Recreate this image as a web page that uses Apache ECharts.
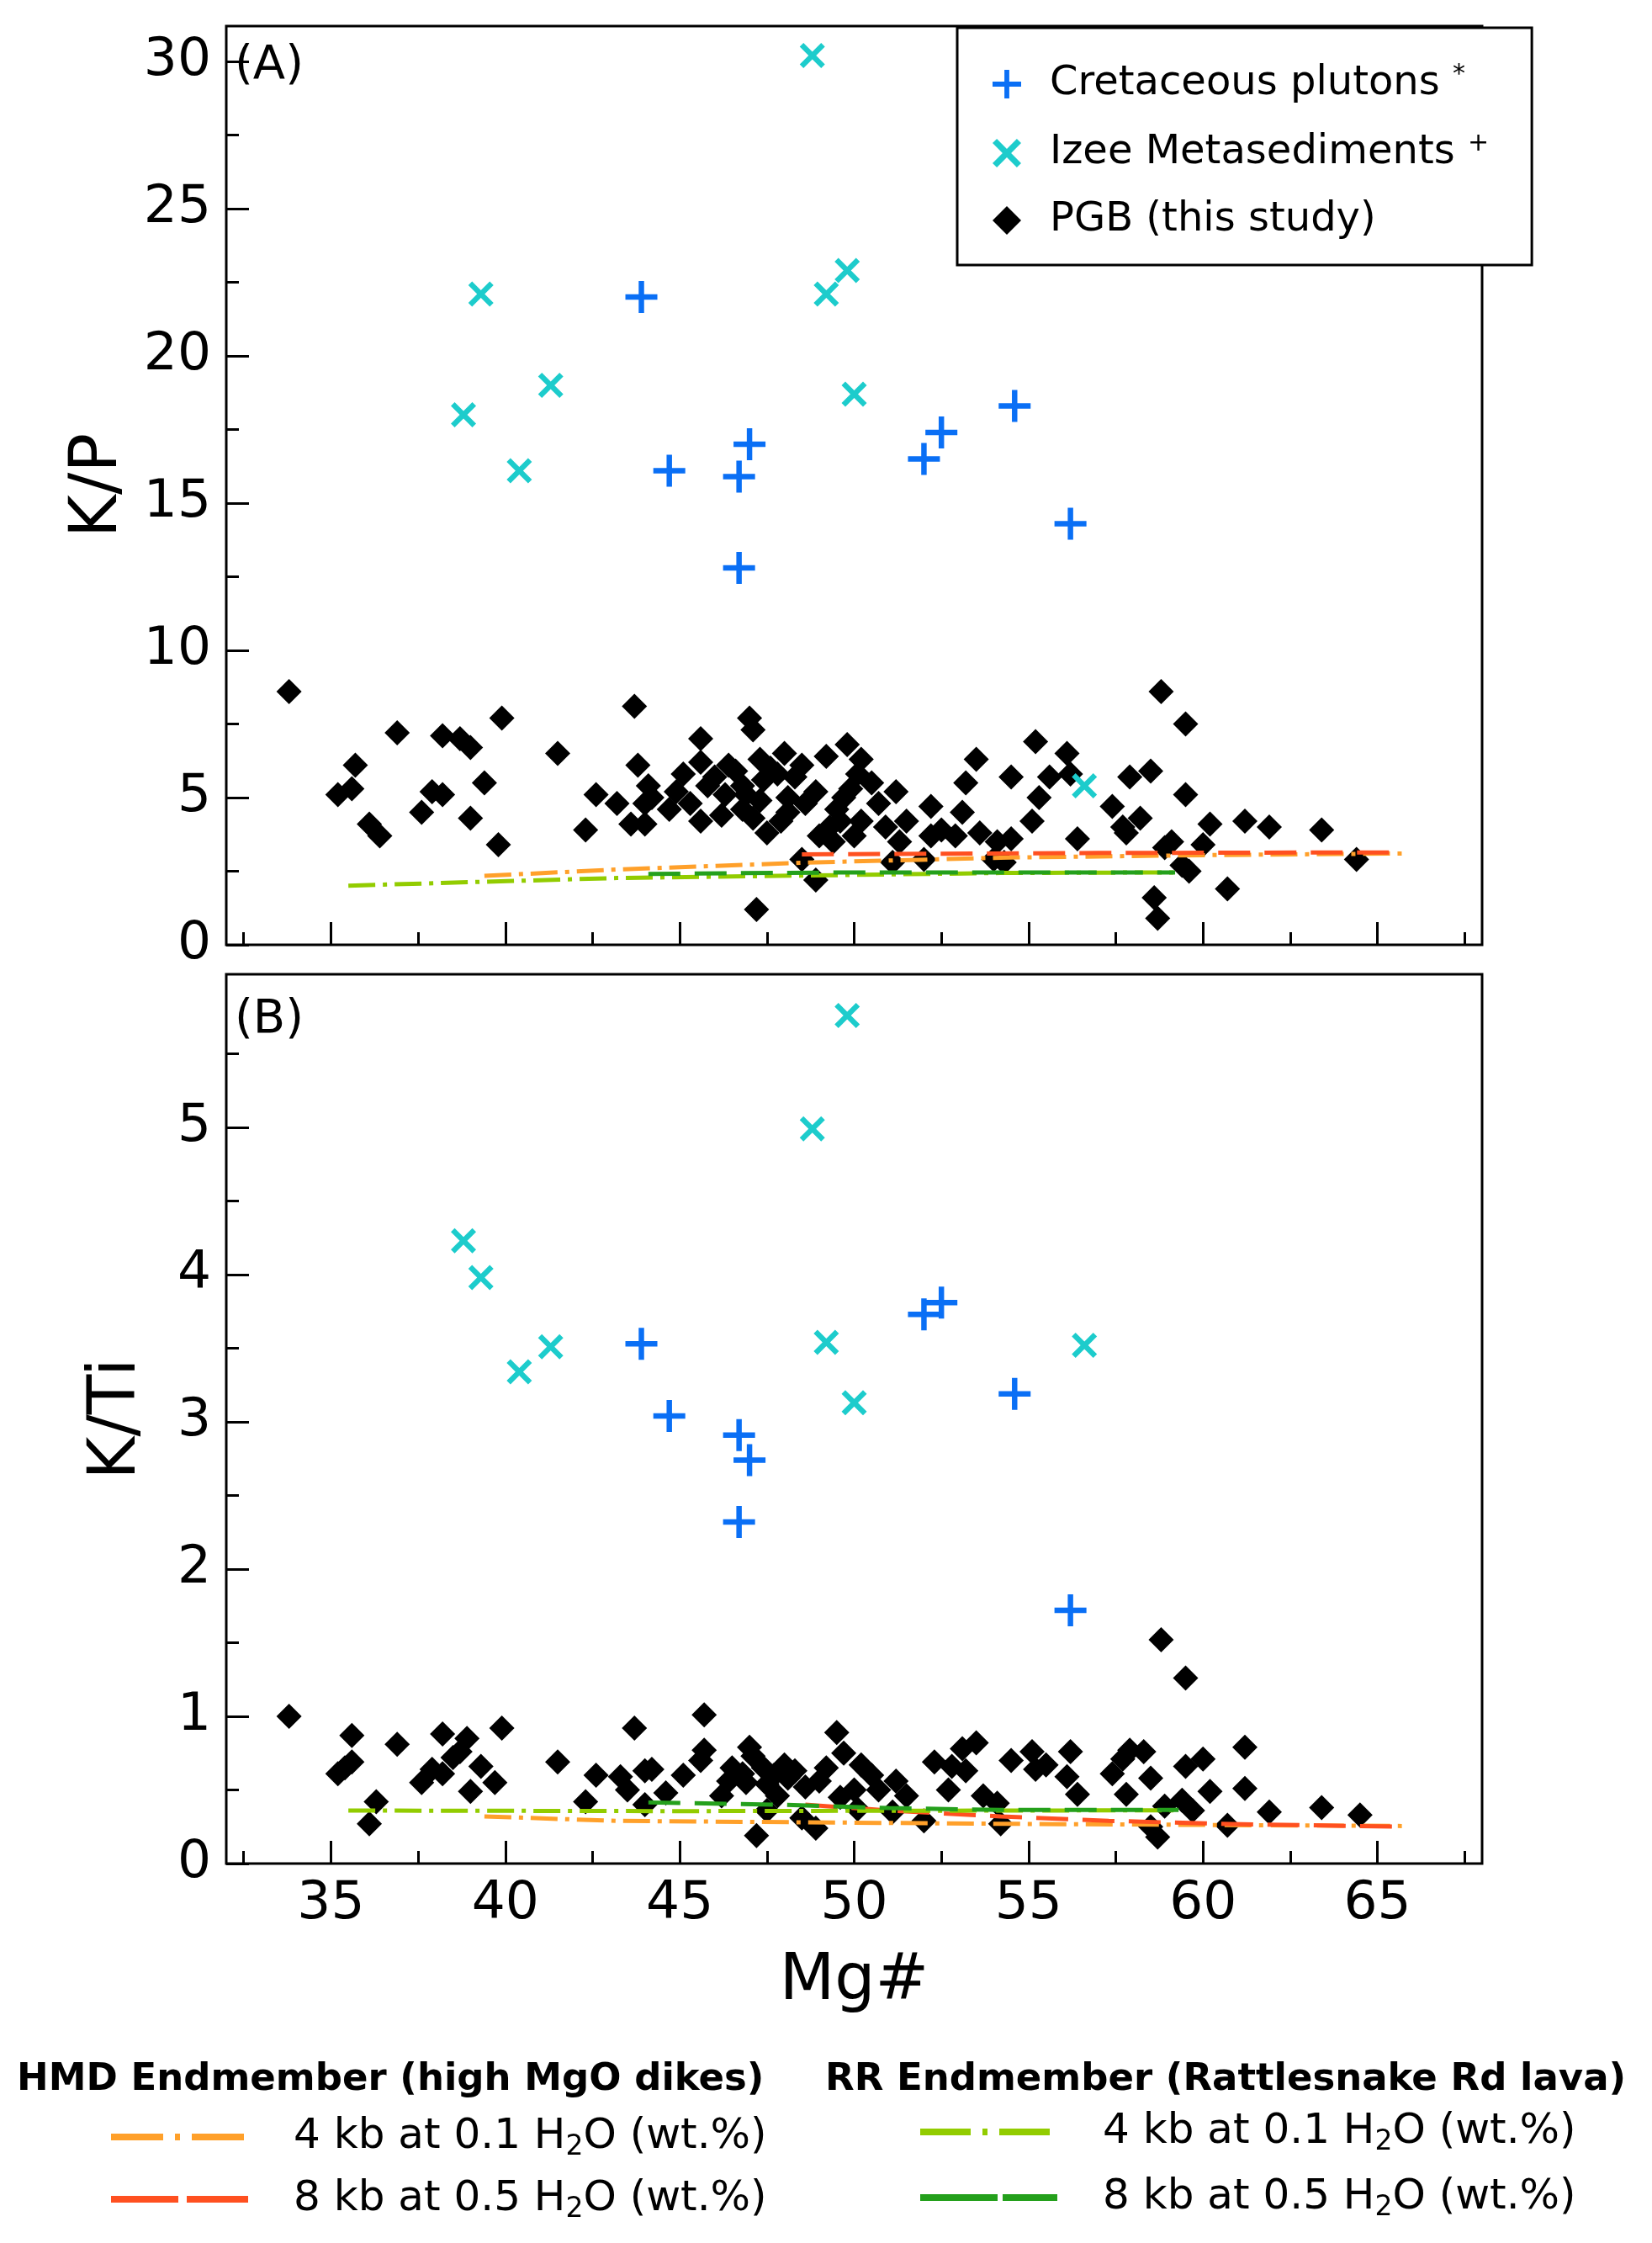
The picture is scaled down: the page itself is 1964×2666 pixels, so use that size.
<!DOCTYPE html>
<html>
<head>
<meta charset="utf-8">
<script src="https://cdn.jsdelivr.net/npm/echarts@6/dist/echarts.min.js"></script>
<style>
  html, body { margin: 0; padding: 0; background: #fff; }
  #chart { width: 1964px; height: 2666px; }
</style>
</head>
<body>
<div id="chart"></div>
<script>
// Cretaceous plutons (Mg#, K/P, K/Ti)
const plutonMg = [43.9, 44.7, 46.7, 47.0, 46.7, 52.0, 52.5, 54.6, 56.2]
const plutonKP = [22.0, 16.1, 15.9, 17.0, 12.8, 16.5, 17.4, 18.3, 14.3]
const plutonKTi = [3.53, 3.04, 2.91, 2.74, 2.32, 3.73, 3.81, 3.19, 1.72]

// Izee metasediments
const izeeMg = [38.8, 39.3, 40.4, 41.3, 48.8, 49.8, 49.2, 50.0, 56.6]
const izeeKP = [18.0, 22.1, 16.1, 19.0, 30.2, 22.9, 22.1, 18.7, 5.4]
const izeeKTi = [4.23, 3.98, 3.34, 3.51, 4.99, 5.76, 3.54, 3.13, 3.52]

// PGB (this study) - [Mg#, K/P]
const pgbKP = [
  [33.8, 8.6], [36.9, 7.2], [35.7, 6.1], [35.2, 5.1], [35.6, 5.3], [36.1, 4.1], [36.4, 3.7],
  [38.2, 7.1], [38.7, 7.0], [39.0, 6.7], [39.9, 7.7], [37.9, 5.2], [38.2, 5.1], [37.6, 4.5],
  [39.4, 5.5], [39.0, 4.3], [39.8, 3.4], [41.5, 6.5], [42.6, 5.1], [42.3, 3.9],
  [43.7, 8.1], [43.8, 6.1], [43.2, 4.8], [44.1, 5.4], [44.2, 5.0], [44.0, 4.8], [43.6, 4.1],
  [44.0, 4.1], [44.7, 4.6], [45.1, 5.8], [44.9, 5.2], [45.6, 7.0], [45.6, 6.2], [45.8, 5.4],
  [45.6, 4.2], [46.2, 4.4], [46.4, 6.1], [46.3, 5.1], [47.0, 7.7], [47.1, 7.3], [46.8, 5.4],
  [46.8, 4.6], [47.3, 6.3], [47.4, 5.6], [47.3, 4.9], [47.1, 4.3], [47.5, 3.8], [48.0, 6.5],
  [47.8, 5.8], [48.1, 5.0], [48.3, 5.7], [48.1, 4.5], [48.9, 5.2], [49.2, 6.4], [49.8, 6.8],
  [50.2, 6.3], [50.1, 5.8], [49.7, 5.0], [49.5, 4.6], [49.6, 4.2], [50.0, 3.7], [49.0, 3.7],
  [49.4, 3.5], [50.2, 4.2], [50.7, 4.8], [51.2, 5.2], [51.5, 4.2], [51.3, 3.5], [52.2, 4.7],
  [53.1, 4.5], [53.5, 6.3], [53.2, 5.5], [52.5, 3.9], [52.9, 3.7], [53.6, 3.8], [54.1, 3.5],
  [52.2, 3.7], [48.5, 2.9], [48.9, 2.2], [47.2, 1.2], [51.1, 2.8], [52.0, 2.9], [54.0, 2.9],
  [46.6, 5.9], [47.6, 6.0], [46.0, 5.7], [48.5, 6.1], [47.9, 4.2], [48.6, 4.8], [45.3, 4.8],
  [46.9, 5.1], [49.9, 5.3], [50.5, 5.5], [50.9, 4.0], [49.3, 4.0],
  [58.8, 8.6], [59.5, 7.5], [55.2, 6.9], [56.1, 6.5], [54.5, 5.7], [55.6, 5.7], [56.2, 5.8],
  [55.3, 5.0], [55.1, 4.2], [54.5, 3.6], [56.4, 3.6], [57.4, 4.7], [57.9, 5.7], [58.5, 5.9],
  [59.5, 5.1], [58.2, 4.3], [57.7, 4.0], [57.8, 3.8], [59.1, 3.5], [58.9, 3.3], [60.0, 3.4],
  [60.2, 4.1], [61.2, 4.2], [61.9, 4.0], [63.4, 3.9], [64.4, 2.9], [59.4, 2.7], [59.6, 2.5],
  [60.7, 1.9], [58.6, 1.6], [58.7, 0.9], [54.3, 2.8]
]

// PGB (this study) - [Mg#, K/Ti]
const pgbKTi = [
  [33.8, 1.0], [35.6, 0.87], [36.9, 0.81], [35.2, 0.61], [35.4, 0.65], [35.6, 0.69], [36.3, 0.42],
  [36.1, 0.27], [38.2, 0.88], [38.9, 0.85], [38.7, 0.76], [38.5, 0.72], [39.9, 0.92], [37.9, 0.64],
  [37.6, 0.55], [38.2, 0.61], [39.3, 0.66], [39.7, 0.55], [39.0, 0.49], [41.5, 0.69], [42.6, 0.6],
  [42.3, 0.42],
  [43.7, 0.92], [45.7, 1.01], [43.3, 0.59], [44.0, 0.63], [44.2, 0.64], [43.5, 0.5], [44.0, 0.4],
  [44.6, 0.48], [45.1, 0.6], [45.7, 0.77], [45.6, 0.7], [46.2, 0.46], [46.5, 0.65], [47.0, 0.79],
  [47.1, 0.73], [46.8, 0.61], [47.4, 0.65], [48.0, 0.67], [47.5, 0.54], [47.8, 0.46], [48.3, 0.63],
  [48.6, 0.52], [47.5, 0.36], [47.2, 0.19], [48.5, 0.31], [48.9, 0.24], [49.5, 0.89], [49.2, 0.65],
  [49.7, 0.75], [50.2, 0.67], [50.0, 0.5], [50.1, 0.37], [50.7, 0.5], [51.2, 0.56], [51.1, 0.35],
  [52.0, 0.29], [51.5, 0.46], [52.3, 0.69], [52.8, 0.66], [53.2, 0.63], [53.5, 0.82], [53.1, 0.78],
  [52.7, 0.5], [53.7, 0.46], [54.1, 0.41], [54.2, 0.27], [46.9, 0.55], [47.7, 0.6], [48.1, 0.58],
  [46.4, 0.56], [49.0, 0.56], [49.6, 0.45], [50.5, 0.6],
  [58.8, 1.52], [59.5, 1.26], [54.5, 0.7], [55.1, 0.76], [55.2, 0.64], [55.5, 0.67], [56.1, 0.59],
  [56.2, 0.76], [56.4, 0.47], [57.4, 0.61], [57.7, 0.71], [57.9, 0.77], [58.3, 0.76], [58.5, 0.58],
  [57.8, 0.47], [58.9, 0.39], [59.4, 0.43], [59.7, 0.36], [58.5, 0.25], [58.7, 0.18], [59.5, 0.66],
  [60.0, 0.71], [60.2, 0.49], [61.2, 0.79], [61.2, 0.51], [60.7, 0.26], [61.9, 0.35], [63.4, 0.38],
  [64.5, 0.33]
]

// model curves [Mg#, ratio]
const hmd4KP = [[39.4, 2.34], [43.2, 2.56], [48.6, 2.79], [54.2, 2.96], [60.3, 3.05], [65.7, 3.1]]
const hmd8KP = [[48.5, 3.07], [57.0, 3.12], [65.7, 3.14]]
const rr4KP = [[35.5, 2.01], [43.2, 2.27], [54.2, 2.44], [59.2, 2.46]]
const rr8KP = [[44.1, 2.41], [50.0, 2.46], [59.2, 2.46]]
const hmd4KTi = [[39.4, 0.32], [43.2, 0.29], [48.6, 0.28], [54.3, 0.27], [65.7, 0.255]]
const hmd8KTi = [[48.6, 0.40], [51.0, 0.36], [54.2, 0.32], [57.3, 0.29], [60.5, 0.27], [65.7, 0.25]]
const rr4KTi = [[35.5, 0.36], [45.0, 0.356], [59.3, 0.362]]
const rr8KTi = [[44.1, 0.415], [47.8, 0.40], [51.0, 0.377], [54.2, 0.364], [59.3, 0.364]]

// ticks
const mgMajor = [35, 40, 45, 50, 55, 60, 65]
const mgMinor = [32.5, 37.5, 42.5, 47.5, 52.5, 57.5, 62.5, 67.5]
const kpMajor = [0, 5, 10, 15, 20, 25, 30]
const kpMinor = [2.5, 7.5, 12.5, 17.5, 22.5, 27.5]
const ktiMajor = [0, 1, 2, 3, 4, 5]
const ktiMinor = [0.5, 1.5, 2.5, 3.5, 4.5, 5.5]

const FONT = 'DejaVu Sans'
const plusPath = 'path://M-0.17,-1L0.17,-1L0.17,-0.17L1,-0.17L1,0.17L0.17,0.17L0.17,1L-0.17,1L-0.17,0.17L-1,0.17L-1,-0.17L-0.17,-0.17Z'
const xPath = 'path://M-0.7,-1L0,-0.3L0.7,-1L1,-0.7L0.3,0L1,0.7L0.7,1L0,0.3L-0.7,1L-1,0.7L-0.3,0L-1,-0.7Z'

const COL = {
  pluton: '#0a6ff5',
  izee: '#1dcccc',
  hmd4: '#ffa02a',
  hmd8: '#ff5020',
  rr4: '#92cc00',
  rr8: '#24a01c'
}
const DASHDOT = [32, 9, 5, 9]
const DASHED = [38, 17]

const zip = (xs, ys) => xs.map((x, i) => [x, ys[i]])

function xAxes(grid, labels) {
  const base = { type: 'value', gridIndex: grid, position: 'bottom', min: 32, max: 68, axisLine: { show: false }, splitLine: { show: false } }
  return [
    Object.assign({}, base, {
      axisTick: { inside: true, length: 27, customValues: mgMajor, lineStyle: { color: '#000', width: 3 } },
      axisLabel: labels
        ? { show: true, customValues: mgMajor, fontSize: 63, fontFamily: FONT, color: '#000', margin: 17 }
        : { show: false },
      name: labels ? 'Mg#' : '',
      nameLocation: 'middle',
      nameGap: 103,
      nameTextStyle: { fontSize: 76, fontFamily: FONT, color: '#000' }
    }),
    Object.assign({}, base, {
      axisTick: { inside: true, length: 15, customValues: mgMinor, lineStyle: { color: '#000', width: 3 } },
      axisLabel: { show: false }
    })
  ]
}

function yAxes(grid, max, major, minor, name, gap) {
  const base = { type: 'value', gridIndex: grid, position: 'left', min: 0, max: max, axisLine: { show: false }, splitLine: { show: false } }
  return [
    Object.assign({}, base, {
      axisTick: { inside: true, length: 27, customValues: major, lineStyle: { color: '#000', width: 3 } },
      axisLabel: { customValues: major, fontSize: 63, fontFamily: FONT, color: '#000', margin: 18 },
      name: name,
      nameLocation: 'middle',
      nameGap: gap,
      nameTextStyle: { fontSize: 78, fontFamily: FONT, color: '#000' }
    }),
    Object.assign({}, base, {
      axisTick: { inside: true, length: 15, customValues: minor, lineStyle: { color: '#000', width: 3 } },
      axisLabel: { show: false }
    })
  ]
}

function lineSeries(name, data, xi, yi, color, dash) {
  return {
    name: name, type: 'line', xAxisIndex: xi, yAxisIndex: yi, data: data,
    symbol: 'none', smooth: false, z: 3,
    lineStyle: { color: color, width: 5, type: dash },
    itemStyle: { color: color }
  }
}

const subText = (name) => {
  const p = name.indexOf('8 kb') >= 0 ? '8 kb at 0.5 H' : '4 kb at 0.1 H'
  return '{t|' + p + '}{sub|2}{t|O (wt.%)}'
}
const lineLegendText = {
  fontFamily: FONT, color: '#000', padding: [0, 0, 0, 49],
  rich: {
    t: { fontSize: 50, fontFamily: FONT, color: '#000', lineHeight: 58 },
    sub: { fontSize: 33, fontFamily: FONT, color: '#000', lineHeight: 30, verticalAlign: 'bottom' }
  }
}
const noSymbol = { opacity: 0 }

const chart = echarts.init(document.getElementById('chart'), null, { renderer: 'canvas' })
chart.setOption({
  animation: false,
  backgroundColor: '#fff',
  textStyle: { fontFamily: FONT },
  grid: [
    { left: 269, top: 31, width: 1493, height: 1092, show: true, borderColor: '#000', borderWidth: 3, backgroundColor: 'transparent' },
    { left: 269, top: 1158, width: 1493, height: 1057, show: true, borderColor: '#000', borderWidth: 3, backgroundColor: 'transparent' }
  ],
  xAxis: [...xAxes(0, false), ...xAxes(1, true)],
  yAxis: [
    ...yAxes(0, 31.2, kpMajor, kpMinor, 'K/P', 112),
    ...yAxes(1, 6.04, ktiMajor, ktiMinor, 'K/Ti', 90)
  ],
  title: [
    { text: '(A)', left: 279, top: 45, padding: 0, textStyle: { fontSize: 56, fontWeight: 'normal', fontFamily: FONT, color: '#000', lineHeight: 66 } },
    { text: '(B)', left: 279, top: 1179, padding: 0, textStyle: { fontSize: 56, fontWeight: 'normal', fontFamily: FONT, color: '#000', lineHeight: 66 } },
    { text: 'HMD Endmember (high MgO dikes)', left: 20, top: 2445, padding: 0, textStyle: { fontSize: 45, fontWeight: 'bold', fontFamily: FONT, color: '#000', lineHeight: 54 } },
    { text: 'RR Endmember (Rattlesnake Rd lava)', left: 981, top: 2445, padding: 0, textStyle: { fontSize: 45, fontWeight: 'bold', fontFamily: FONT, color: '#000', lineHeight: 54 } }
  ],
  legend: [
    {
      left: 1138, top: 33, orient: 'vertical',
      padding: [41, 51, 29, 42],
      backgroundColor: '#fff', borderColor: '#000', borderWidth: 3, borderRadius: 0,
      itemWidth: 34, itemHeight: 34, itemGap: 32,
      data: ['Cretaceous plutons', 'Izee Metasediments', 'PGB (this study)'],
      formatter: (name) => {
        if (name === 'Cretaceous plutons') return '{t|Cretaceous plutons} {s|*}'
        if (name === 'Izee Metasediments') return '{t|Izee Metasediments} {s|+}'
        return '{t|' + name + '}'
      },
      textStyle: {
        fontFamily: FONT, fontSize: 48, color: '#000', padding: [0, 0, 0, 29],
        rich: {
          t: { fontSize: 48, fontFamily: FONT, color: '#000', lineHeight: 52 },
          s: { fontSize: 30, fontFamily: FONT, color: '#000', lineHeight: 26, verticalAlign: 'top' }
        }
      }
    },
    {
      left: 128, top: 2515, orient: 'vertical', padding: 0,
      itemWidth: 163, itemHeight: 16, itemGap: 20,
      data: [
        { name: 'HMD 4 kb', itemStyle: noSymbol, lineStyle: { type: [62, 14, 6, 14], width: 8 } },
        { name: 'HMD 8 kb', itemStyle: noSymbol, lineStyle: { type: [80, 10], width: 8 } }
      ],
      formatter: subText,
      textStyle: lineLegendText
    },
    {
      left: 1090, top: 2509, orient: 'vertical', padding: 0,
      itemWidth: 163, itemHeight: 16, itemGap: 24,
      data: [
        { name: 'RR 4 kb', itemStyle: noSymbol, lineStyle: { type: [60, 14, 6, 14], width: 8 } },
        { name: 'RR 8 kb', itemStyle: noSymbol, lineStyle: { type: [92, 6], width: 8 } }
      ],
      formatter: subText,
      textStyle: lineLegendText
    }
  ],
  series: [
    {
      name: 'PGB (this study)', type: 'scatter', xAxisIndex: 0, yAxisIndex: 0, z: 2,
      symbol: 'diamond', symbolSize: 30, itemStyle: { color: '#000', opacity: 1 }, data: pgbKP
    },
    {
      name: 'PGB (this study)', type: 'scatter', xAxisIndex: 2, yAxisIndex: 2, z: 2,
      symbol: 'diamond', symbolSize: 30, itemStyle: { color: '#000', opacity: 1 }, data: pgbKTi
    },
    lineSeries('HMD 4 kb', hmd4KP, 0, 0, COL.hmd4, DASHDOT),
    lineSeries('HMD 8 kb', hmd8KP, 0, 0, COL.hmd8, DASHED),
    lineSeries('RR 4 kb', rr4KP, 0, 0, COL.rr4, DASHDOT),
    lineSeries('RR 8 kb', rr8KP, 0, 0, COL.rr8, DASHED),
    lineSeries('HMD 4 kb', hmd4KTi, 2, 2, COL.hmd4, DASHDOT),
    lineSeries('HMD 8 kb', hmd8KTi, 2, 2, COL.hmd8, DASHED),
    lineSeries('RR 4 kb', rr4KTi, 2, 2, COL.rr4, DASHDOT),
    lineSeries('RR 8 kb', rr8KTi, 2, 2, COL.rr8, DASHED),
    {
      name: 'Cretaceous plutons', type: 'scatter', xAxisIndex: 0, yAxisIndex: 0, z: 4,
      symbol: plusPath, symbolSize: 38, itemStyle: { color: COL.pluton, opacity: 1 }, data: zip(plutonMg, plutonKP)
    },
    {
      name: 'Cretaceous plutons', type: 'scatter', xAxisIndex: 2, yAxisIndex: 2, z: 4,
      symbol: plusPath, symbolSize: 38, itemStyle: { color: COL.pluton, opacity: 1 }, data: zip(plutonMg, plutonKTi)
    },
    {
      name: 'Izee Metasediments', type: 'scatter', xAxisIndex: 0, yAxisIndex: 0, z: 4,
      symbol: xPath, symbolSize: 30, itemStyle: { color: COL.izee, opacity: 1 }, data: zip(izeeMg, izeeKP)
    },
    {
      name: 'Izee Metasediments', type: 'scatter', xAxisIndex: 2, yAxisIndex: 2, z: 4,
      symbol: xPath, symbolSize: 30, itemStyle: { color: COL.izee, opacity: 1 }, data: zip(izeeMg, izeeKTi)
    }
  ]
})
</script>
</body>
</html>
